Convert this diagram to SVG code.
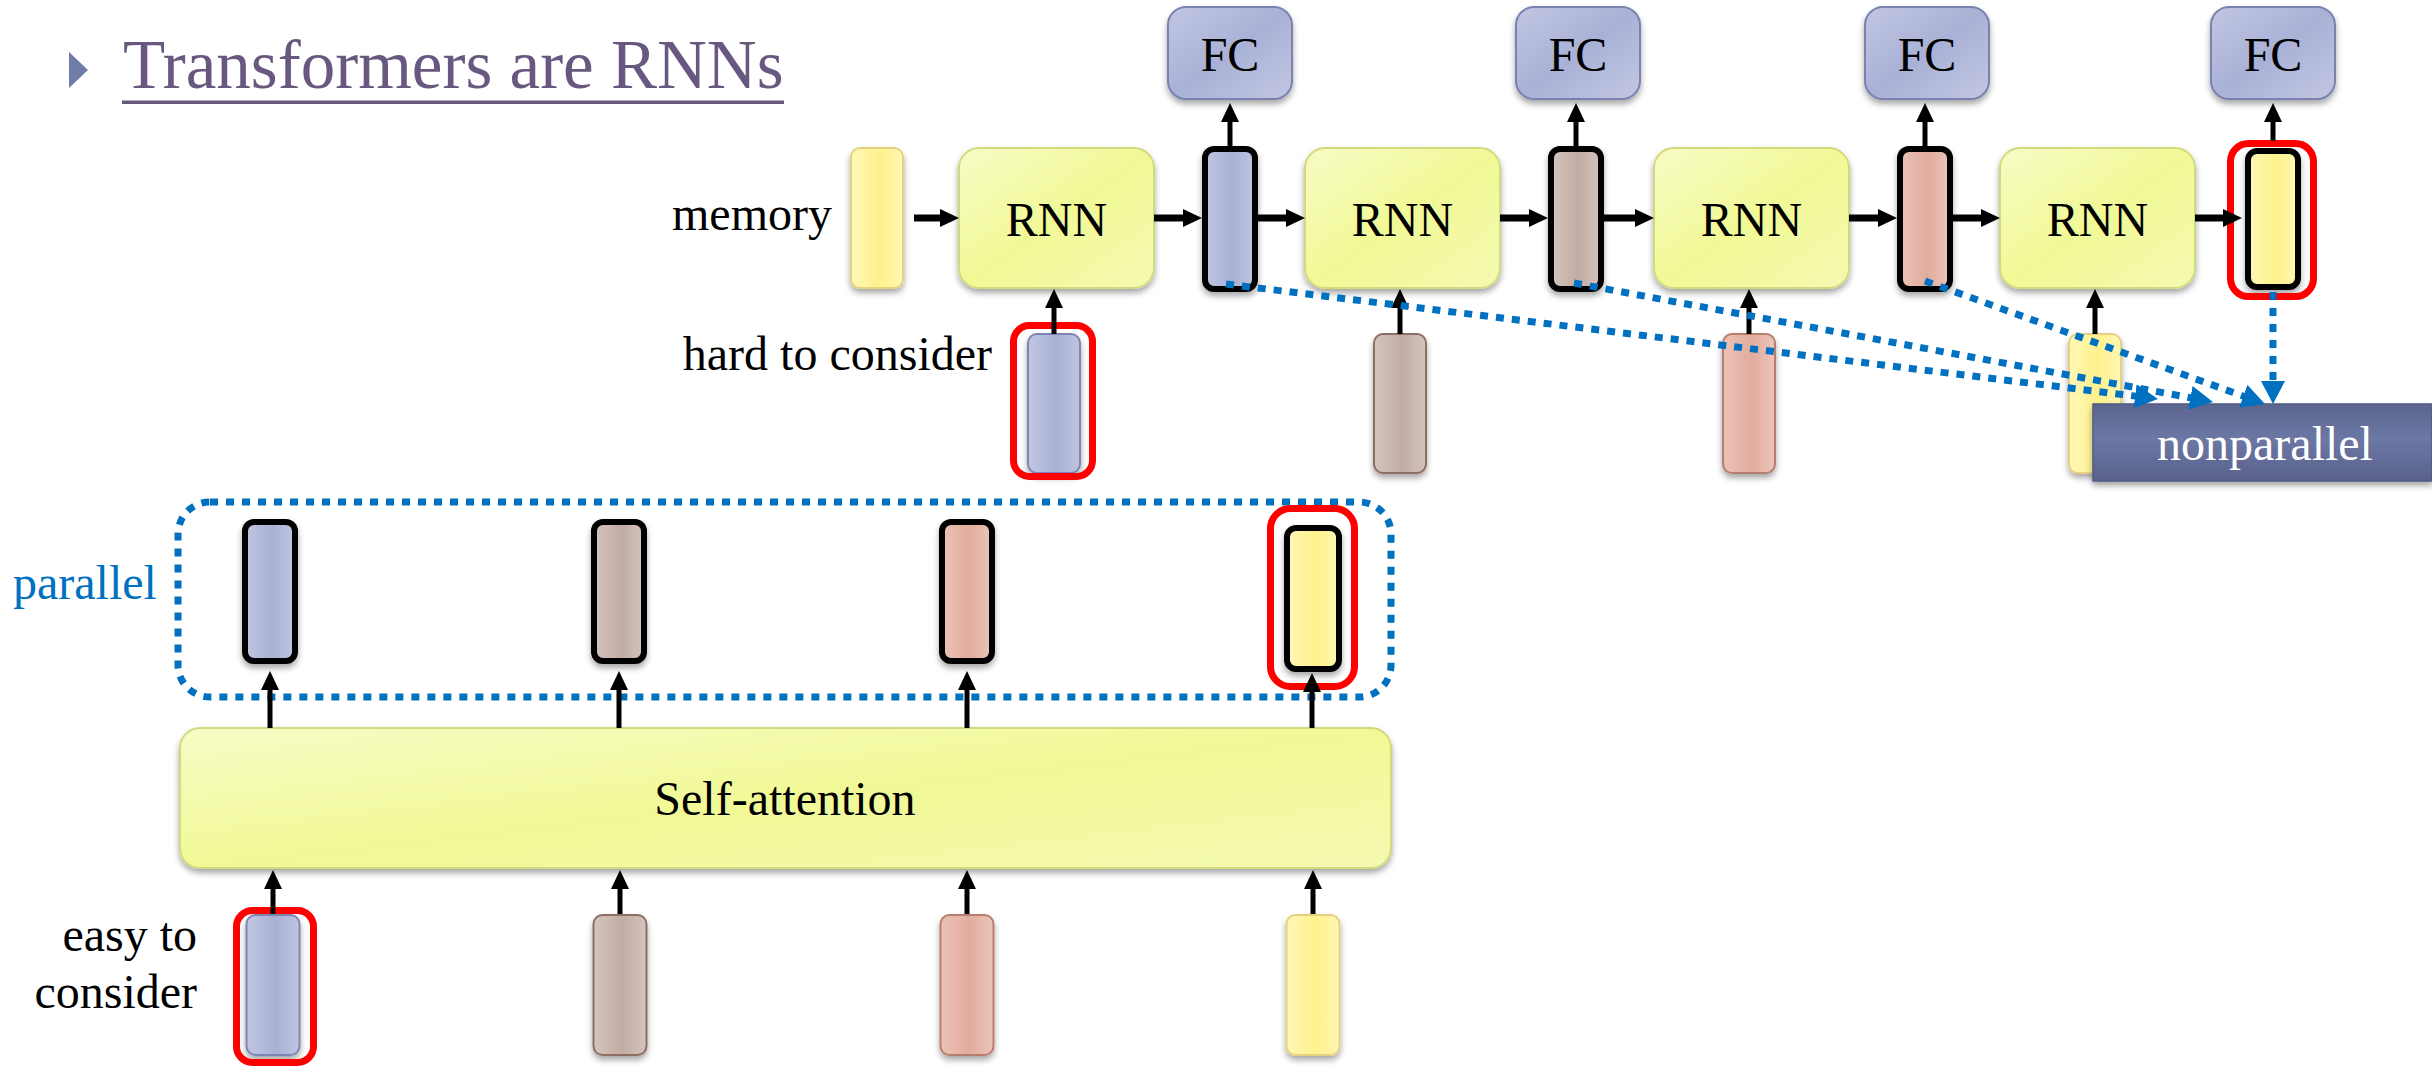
<svg xmlns="http://www.w3.org/2000/svg" width="2432" height="1066" viewBox="0 0 2432 1066">
  <defs>
    <style>
      text { font-family: 'Liberation Serif', serif; }
      .lbl { font-size: 48px; fill: #000; }
      .mid { text-anchor: middle; }
      .end { text-anchor: end; }
      .rnn { fill: url(#gYG); stroke: #D3DA7E; stroke-width: 2; filter: url(#sh); }
      .fc { fill: url(#gFC); stroke: #7A83B0; stroke-width: 2; filter: url(#sh); }
      .vb { fill: url(#gBlue); }
      .vr { fill: url(#gBrown); }
      .vs { fill: url(#gSalmon); }
      .vy { fill: url(#gYel); }
      .in.vb { stroke: #7D86B2; stroke-width: 2; filter: url(#sh); }
      .in.vr { stroke: #8E6D63; stroke-width: 2; filter: url(#sh); }
      .in.vs { stroke: #B77D6D; stroke-width: 2; filter: url(#sh); }
      .in.vy { stroke: #E6D27E; stroke-width: 2; filter: url(#sh); }
      .out { stroke: #000; stroke-width: 6; filter: url(#sh); }
      .hl { fill: none; stroke: #FF0000; stroke-width: 7; }
      .arr { stroke: #000; fill: none; marker-end: url(#ah); }
      .h { stroke-width: 7; }
      .v { stroke-width: 5; }
      .dot { stroke: #0070C0; stroke-width: 7; stroke-dasharray: 8 8; fill: none; }
      .dotarr { marker-end: url(#bh); }
    </style>
    <filter id="sh" x="-20%" y="-20%" width="140%" height="140%">
      <feGaussianBlur in="SourceAlpha" stdDeviation="3"/>
      <feOffset dx="0" dy="4" result="b"/>
      <feComponentTransfer><feFuncA type="linear" slope="0.35"/></feComponentTransfer>
      <feMerge><feMergeNode/><feMergeNode in="SourceGraphic"/></feMerge>
    </filter>
    <linearGradient id="gYG" x1="0" y1="0" x2="1" y2="1">
      <stop offset="0" stop-color="#F7FBC6"/>
      <stop offset="0.5" stop-color="#F1F996"/>
      <stop offset="1" stop-color="#F4F9B0"/>
    </linearGradient>
    <linearGradient id="gFC" x1="0" y1="0" x2="1" y2="1">
      <stop offset="0" stop-color="#C1C6E2"/>
      <stop offset="0.5" stop-color="#A9B1D6"/>
      <stop offset="1" stop-color="#C2C7E2"/>
    </linearGradient>
    <linearGradient id="gBlue" x1="0" y1="0" x2="1" y2="0">
      <stop offset="0" stop-color="#C2C6E2"/>
      <stop offset="0.55" stop-color="#A8B0D4"/>
      <stop offset="1" stop-color="#C0C5E1"/>
    </linearGradient>
    <linearGradient id="gBrown" x1="0" y1="0" x2="1" y2="0">
      <stop offset="0" stop-color="#D4C5BF"/>
      <stop offset="0.55" stop-color="#C2ACA4"/>
      <stop offset="1" stop-color="#D3C4BE"/>
    </linearGradient>
    <linearGradient id="gSalmon" x1="0" y1="0" x2="1" y2="0">
      <stop offset="0" stop-color="#ECC3B7"/>
      <stop offset="0.55" stop-color="#E1AC9D"/>
      <stop offset="1" stop-color="#ECC5BA"/>
    </linearGradient>
    <linearGradient id="gYel" x1="0" y1="0" x2="1" y2="0">
      <stop offset="0" stop-color="#FFF8B8"/>
      <stop offset="0.55" stop-color="#FEF18C"/>
      <stop offset="1" stop-color="#FFF7B4"/>
    </linearGradient>
    <linearGradient id="gNP" x1="0" y1="0" x2="0" y2="1">
      <stop offset="0" stop-color="#5B658E"/>
      <stop offset="0.45" stop-color="#6C77A5"/>
      <stop offset="1" stop-color="#59628B"/>
    </linearGradient>
    <marker id="ah" markerUnits="userSpaceOnUse" markerWidth="20" markerHeight="20" viewBox="0 0 20 20" refX="5" refY="10" orient="auto">
      <path d="M0,1 L19,10 L0,19 z" fill="#000"/>
    </marker>
    <marker id="bh" markerUnits="userSpaceOnUse" markerWidth="24" markerHeight="24" viewBox="0 0 24 24" refX="4" refY="12" orient="auto">
      <path d="M0,0 L23,12 L0,24 z" fill="#0070C0"/>
    </marker>
  </defs>

  <rect width="2432" height="1066" fill="#FFFFFF"/>

  <!-- title -->
  <g id="title">
    <polygon points="69,52 88,70 69,88" fill="#6F7CA8"/>
    <text x="123" y="88" font-size="69" fill="#68587F">Transformers are RNNs</text>
    <rect x="122" y="100.5" width="662" height="3.5" fill="#68587F"/>
  </g>

  <!-- recurrent chain -->
  <g id="memory">
    <rect class="in vy" x="851" y="148" width="52" height="140" rx="9"/>
    <text class="lbl end" x="832" y="230">memory</text>
  </g>
  <g id="rnn1"><rect class="rnn" x="959" y="148" width="195" height="140" rx="20"/><text class="lbl mid" x="1056.5" y="236">RNN</text></g>
  <g id="rnn2"><rect class="rnn" x="1305" y="148" width="195" height="140" rx="20"/><text class="lbl mid" x="1402.5" y="236">RNN</text></g>
  <g id="rnn3"><rect class="rnn" x="1654" y="148" width="195" height="140" rx="20"/><text class="lbl mid" x="1751.5" y="236">RNN</text></g>
  <g id="rnn4"><rect class="rnn" x="2000" y="148" width="195" height="140" rx="20"/><text class="lbl mid" x="2097.5" y="236">RNN</text></g>

  <g id="fc1"><rect class="fc" x="1168" y="7" width="124" height="92" rx="18"/><text class="lbl mid" x="1230" y="71">FC</text></g>
  <g id="fc2"><rect class="fc" x="1516" y="7" width="124" height="92" rx="18"/><text class="lbl mid" x="1578" y="71">FC</text></g>
  <g id="fc3"><rect class="fc" x="1865" y="7" width="124" height="92" rx="18"/><text class="lbl mid" x="1927" y="71">FC</text></g>
  <g id="fc4"><rect class="fc" x="2211" y="7" width="124" height="92" rx="18"/><text class="lbl mid" x="2273" y="71">FC</text></g>

  <g id="h1"><rect class="out vb" x="1205" y="149" width="50" height="140" rx="9"/></g>
  <g id="h2"><rect class="out vr" x="1551" y="149" width="50" height="140" rx="9"/></g>
  <g id="h3"><rect class="out vs" x="1900" y="149" width="50" height="140" rx="9"/></g>
  <g id="h4"><rect class="out vy" x="2248" y="151" width="50" height="136" rx="9"/></g>

  <g id="x1">
    <rect class="in vb" x="1028" y="334" width="52" height="139" rx="9"/>
    <text class="lbl end" x="992" y="370">hard to consider</text>
  </g>
  <g id="x2"><rect class="in vr" x="1374" y="334" width="52" height="139" rx="9"/></g>
  <g id="x3"><rect class="in vs" x="1723" y="334" width="52" height="139" rx="9"/></g>
  <g id="x4"><rect class="in vy" x="2069" y="334" width="52" height="139" rx="9"/></g>

  <!-- self-attention layer -->
  <g id="parallel">
    <rect class="dot" x="178" y="502" width="1213" height="195" rx="32"/>
    <text x="13" y="599" font-size="48" fill="#0070C0">parallel</text>
  </g>
  <g id="o1"><rect class="out vb" x="245" y="522" width="50" height="139" rx="9"/></g>
  <g id="o2"><rect class="out vr" x="594" y="522" width="50" height="139" rx="9"/></g>
  <g id="o3"><rect class="out vs" x="942" y="522" width="50" height="139" rx="9"/></g>
  <g id="o4"><rect class="out vy" x="1287" y="528" width="52" height="141" rx="9"/></g>

  <g id="self-attention">
    <rect class="rnn" x="180" y="728" width="1211" height="140" rx="20"/>
    <text class="lbl mid" x="785" y="815">Self-attention</text>
  </g>

  <g id="a1">
    <rect class="in vb" x="246.5" y="915" width="53" height="140" rx="9"/>
    <text class="lbl end" x="197" y="951">easy to</text>
    <text class="lbl end" x="197" y="1008">consider</text>
  </g>
  <g id="a2"><rect class="in vr" x="593.5" y="915" width="53" height="140" rx="9"/></g>
  <g id="a3"><rect class="in vs" x="940.5" y="915" width="53" height="140" rx="9"/></g>
  <g id="a4"><rect class="in vy" x="1286.5" y="915" width="53" height="140" rx="9"/></g>

  <!-- red highlights -->
  <g id="highlights">
    <rect class="hl" x="1013.5" y="325.5" width="79" height="151" rx="16"/>
    <rect class="hl" x="2230.5" y="143.5" width="83" height="153" rx="18"/>
    <rect class="hl" x="1270.5" y="508.5" width="84" height="178" rx="20"/>
    <rect class="hl" x="236.5" y="910.5" width="77" height="152" rx="16"/>
  </g>

  <g id="nonparallel">
    <rect x="2093" y="404" width="339" height="77" fill="url(#gNP)" stroke="#515A82" stroke-width="1.5" filter="url(#sh)"/>
    <text x="2265" y="460" font-size="48" fill="#FFFFFF" text-anchor="middle">nonparallel</text>
  </g>

  <!-- connectors -->
  <g id="connectors">
    <!-- recurrent state flow -->
    <line class="arr h" x1="914" y1="218" x2="945" y2="218"/>
    <line class="arr h" x1="1154" y1="218" x2="1188" y2="218"/>
    <line class="arr h" x1="1258" y1="218" x2="1291" y2="218"/>
    <line class="arr h" x1="1500" y1="218" x2="1534" y2="218"/>
    <line class="arr h" x1="1604" y1="218" x2="1640" y2="218"/>
    <line class="arr h" x1="1849" y1="218" x2="1883" y2="218"/>
    <line class="arr h" x1="1953" y1="218" x2="1986" y2="218"/>
    <line class="arr h" x1="2195" y1="218" x2="2228" y2="218"/>
    <!-- outputs to FC -->
    <line class="arr v" x1="1230" y1="147" x2="1230" y2="117"/>
    <line class="arr v" x1="1576" y1="147" x2="1576" y2="117"/>
    <line class="arr v" x1="1925" y1="147" x2="1925" y2="117"/>
    <line class="arr v" x1="2273" y1="141" x2="2273" y2="117"/>
    <!-- inputs to RNN -->
    <line class="arr v" x1="1054" y1="334" x2="1054" y2="303"/>
    <line class="arr v" x1="1400" y1="334" x2="1400" y2="303"/>
    <line class="arr v" x1="1749" y1="334" x2="1749" y2="303"/>
    <line class="arr v" x1="2095" y1="334" x2="2095" y2="303"/>
    <!-- self-attention to outputs -->
    <line class="arr v" x1="270" y1="728" x2="270" y2="685"/>
    <line class="arr v" x1="619" y1="728" x2="619" y2="685"/>
    <line class="arr v" x1="967" y1="728" x2="967" y2="685"/>
    <line class="arr v" x1="1312" y1="728" x2="1312" y2="687"/>
    <!-- inputs to self-attention -->
    <line class="arr v" x1="273" y1="914" x2="273" y2="884"/>
    <line class="arr v" x1="620" y1="914" x2="620" y2="884"/>
    <line class="arr v" x1="967" y1="914" x2="967" y2="884"/>
    <line class="arr v" x1="1313" y1="914" x2="1313" y2="884"/>
    <!-- sequential dependency -->
    <line class="dot dotarr" x1="1226" y1="284" x2="2139.1" y2="396.6"/>
    <line class="dot dotarr" x1="1574" y1="283" x2="2194.3" y2="398.5"/>
    <line class="dot dotarr" x1="1925" y1="281" x2="2247.1" y2="397.5"/>
    <line class="dot dotarr" x1="2273" y1="292" x2="2273" y2="385"/>
  </g>
</svg>
